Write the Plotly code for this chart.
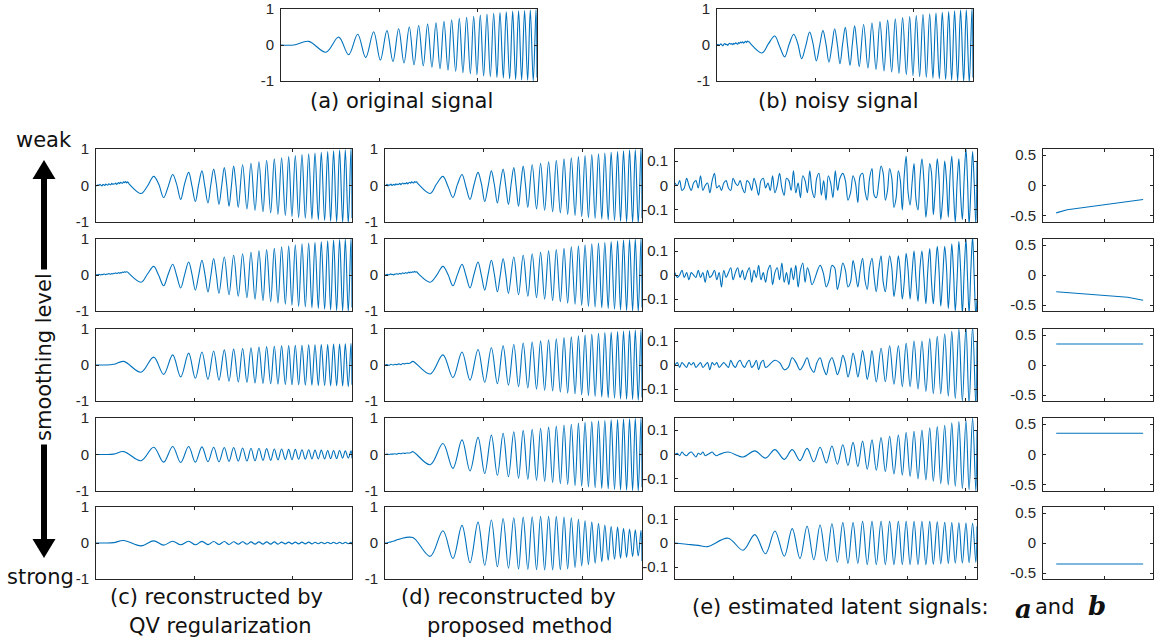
import plotly.graph_objects as go

W, H = 1154, 641
BLUE = "#0072BD"
AX = "#262626"

# ---------------- data ----------------
# sample positions of the extrema of the chirp (alternating peak / trough)
ext_t = [281, 457, 586, 687, 779, 860, 941, 1009, 1076, 1137,
         1195, 1249, 1303, 1351, 1398, 1445, 1489, 1533, 1574, 1615,
         1655, 1696, 1733, 1774, 1811, 1848, 1885, 1923, 1957, 1990,
         2024, 2058, 2092, 2126, 2160, 2193, 2224, 2258, 2288, 2322,
         2353, 2383, 2413, 2444, 2474, 2505, 2532, 2562, 2590]
N_SAMPLES = 2600

# (a) original signal
a_head = [0.0, 0.0]
a_amp = [0.10, 0.20, 0.22, 0.27, 0.30, 0.35, 0.37, 0.42, 0.40, 0.46,
         0.45, 0.50, 0.50, 0.55, 0.54, 0.58, 0.58, 0.62, 0.62, 0.66,
         0.66, 0.70, 0.70, 0.73, 0.74, 0.77, 0.77, 0.80, 0.80, 0.83,
         0.83, 0.86, 0.86, 0.88, 0.88, 0.90, 0.90, 0.92, 0.92, 0.94,
         0.94, 0.96, 0.95, 0.97, 0.96, 0.98, 0.97, 1.00, 0.99]

# (b) noisy signal (also weak-smoothing reconstructions)
b_head = [0.00, 0.02, -0.01, 0.01, 0.03, 0.00, -0.02, 0.02, 0.04, 0.01,
          0.02, -0.01, 0.03, 0.05, 0.02, 0.04, 0.01, 0.05, 0.03, 0.06,
          0.04, 0.02, 0.07, 0.05, 0.08, 0.06, 0.09, 0.05, 0.08, 0.10,
          0.07, 0.11, 0.09, 0.08, 0.04]
b_amp = [0.22, 0.25, 0.33, 0.30, 0.38, 0.36, 0.44, 0.40, 0.48, 0.45,
         0.52, 0.49, 0.57, 0.53, 0.60, 0.57, 0.64, 0.61, 0.68, 0.65,
         0.72, 0.69, 0.75, 0.73, 0.79, 0.76, 0.82, 0.79, 0.85, 0.82,
         0.88, 0.85, 0.90, 0.87, 0.92, 0.89, 0.94, 0.91, 0.96, 0.93,
         0.98, 0.95, 1.00, 0.97, 1.02, 0.98, 1.04, 1.02]
b_mid = [0.03, -0.04, 0.02, 0.05, -0.03, 0.04, -0.02, 0.03, -0.04, 0.02,
         0.03, -0.03, 0.02, -0.02]

c1_head = [0.01, -0.01, 0.02, 0.00, 0.03, 0.01, -0.01, 0.03, 0.02, 0.00,
           0.04, 0.02, 0.01, 0.05, 0.03, 0.02, 0.06, 0.03, 0.05, 0.04,
           0.07, 0.03, 0.06, 0.08, 0.05, 0.09, 0.07, 0.06, 0.10, 0.08,
           0.11, 0.07, 0.10, 0.07, 0.03]
c1_mid = [-0.02, 0.04, -0.03, 0.03, 0.05, -0.02, 0.03, -0.04, 0.02, 0.04,
          -0.02, 0.03, -0.03, 0.02]
d1_head = [0.00, 0.01, 0.03, -0.01, 0.02, 0.01, 0.04, 0.00, 0.02, 0.03,
           0.01, 0.05, 0.02, 0.04, 0.03, 0.06, 0.02, 0.05, 0.07, 0.04,
           0.06, 0.05, 0.08, 0.04, 0.07, 0.09, 0.06, 0.10, 0.08, 0.07,
           0.11, 0.09, 0.10, 0.06, 0.03]
d1_mid = [0.04, -0.02, 0.03, -0.04, 0.02, 0.05, -0.03, 0.02, 0.03, -0.02,
          0.04, -0.03, 0.02, 0.01]

c2_head = [0.00, 0.01, 0.00, 0.02, 0.01, 0.00, 0.02, 0.01, 0.03, 0.02,
           0.01, 0.03, 0.02, 0.04, 0.03, 0.02, 0.04, 0.03, 0.05, 0.04,
           0.06, 0.04, 0.05, 0.07, 0.05, 0.07, 0.06, 0.08, 0.07, 0.09,
           0.08, 0.09, 0.08, 0.06, 0.03]
c2_amp = [0.20, 0.24, 0.30, 0.30, 0.36, 0.36, 0.42, 0.41, 0.47, 0.46,
          0.51, 0.50, 0.55, 0.55, 0.59, 0.59, 0.63, 0.63, 0.67, 0.67,
          0.71, 0.71, 0.74, 0.74, 0.78, 0.78, 0.81, 0.81, 0.84, 0.84,
          0.87, 0.87, 0.89, 0.89, 0.91, 0.91, 0.93, 0.93, 0.95, 0.95,
          0.97, 0.97, 0.99, 0.99, 1.00, 1.00, 1.02, 1.02]
c2_mid = [0.02, -0.01, 0.02, -0.02, 0.01, 0.02, -0.01, 0.02, -0.02, 0.01]
d2_head = [0.01, 0.00, 0.02, 0.01, 0.00, 0.02, 0.03, 0.01, 0.02, 0.00,
           0.03, 0.02, 0.04, 0.02, 0.03, 0.05, 0.03, 0.04, 0.06, 0.04,
           0.05, 0.07, 0.05, 0.06, 0.08, 0.06, 0.08, 0.07, 0.09, 0.08,
           0.10, 0.08, 0.09, 0.06, 0.03]
d2_mid = [-0.01, 0.02, 0.01, -0.02, 0.02, -0.01, 0.01, 0.02, -0.01, 0.01]

c3_head = [0.0, 0.0, 0.02]
c3_amp = [0.10, 0.20, 0.22, 0.26, 0.28, 0.33, 0.33, 0.37, 0.36, 0.40,
          0.39, 0.42, 0.42, 0.45, 0.44, 0.47, 0.46, 0.48, 0.48, 0.50,
          0.50, 0.51, 0.51, 0.52, 0.52, 0.53, 0.53, 0.54, 0.54, 0.55,
          0.55, 0.55, 0.55, 0.56, 0.56, 0.56, 0.56, 0.57, 0.57, 0.57,
          0.57, 0.58, 0.58, 0.58, 0.58, 0.59, 0.59, 0.60, 0.60]
c4_amp = [0.08, 0.17, 0.20, 0.21, 0.22, 0.22, 0.22, 0.21, 0.21, 0.20,
          0.20, 0.20, 0.19, 0.19, 0.19, 0.18, 0.18, 0.18, 0.17, 0.17,
          0.17, 0.16, 0.16, 0.16, 0.15, 0.15, 0.15, 0.14, 0.14, 0.14,
          0.14, 0.13, 0.13, 0.13, 0.13, 0.12, 0.12, 0.12, 0.12, 0.12,
          0.11, 0.11, 0.11, 0.11, 0.11, 0.10, 0.10, 0.10, 0.10]
c5_amp = [0.07, 0.08, 0.06, 0.06, 0.05, 0.05, 0.05, 0.05, 0.045, 0.045,
          0.04, 0.04, 0.04, 0.04, 0.035, 0.035, 0.035, 0.035, 0.03, 0.03,
          0.03, 0.03, 0.03, 0.03, 0.03, 0.03, 0.025, 0.025, 0.025, 0.025,
          0.025, 0.025, 0.025, 0.025, 0.025, 0.025, 0.02, 0.02, 0.02, 0.02,
          0.02, 0.02, 0.02, 0.02, 0.02, 0.02, 0.02, 0.02, 0.02]
smooth_head = [0.0, 0.0, 0.01]

d3_head = [0.00, 0.01, -0.01, 0.02, 0.00, 0.02, 0.01, 0.03, 0.01, 0.04,
           0.03, 0.05, 0.04, 0.06]
d3_amp = [0.10, 0.25, 0.28, 0.35, 0.36, 0.42, 0.43, 0.48, 0.48, 0.52,
          0.53, 0.56, 0.57, 0.60, 0.61, 0.64, 0.64, 0.67, 0.67, 0.70,
          0.70, 0.72, 0.73, 0.75, 0.76, 0.78, 0.78, 0.80, 0.81, 0.83,
          0.83, 0.85, 0.86, 0.87, 0.88, 0.89, 0.90, 0.91, 0.91, 0.92,
          0.93, 0.94, 0.94, 0.95, 0.96, 0.96, 0.97, 0.98, 0.98]
d4_head = [0.00, 0.01, 0.00, 0.01, 0.01, 0.02, 0.01, 0.03, 0.02, 0.04,
           0.03, 0.04, 0.04, 0.05]
d4_amp = [0.08, 0.28, 0.30, 0.38, 0.40, 0.45, 0.47, 0.52, 0.53, 0.57,
          0.58, 0.61, 0.62, 0.65, 0.66, 0.68, 0.69, 0.71, 0.72, 0.74,
          0.75, 0.77, 0.78, 0.80, 0.81, 0.82, 0.83, 0.85, 0.86, 0.87,
          0.88, 0.89, 0.90, 0.91, 0.92, 0.93, 0.93, 0.94, 0.95, 0.96,
          0.96, 0.97, 0.97, 0.98, 0.98, 0.99, 0.99, 1.00, 1.00]
d5_head = [0.0, 0.0, 0.02, 0.03, 0.05, 0.06, 0.09, 0.10, 0.12]
d5_amp = [0.15, 0.37, 0.34, 0.43, 0.49, 0.55, 0.58, 0.62, 0.64, 0.66,
          0.68, 0.70, 0.70, 0.72, 0.72, 0.73, 0.73, 0.74, 0.74, 0.75,
          0.74, 0.75, 0.74, 0.74, 0.72, 0.72, 0.70, 0.68, 0.66, 0.64,
          0.62, 0.60, 0.58, 0.56, 0.54, 0.52, 0.50, 0.48, 0.46, 0.45,
          0.44, 0.42, 0.41, 0.40, 0.39, 0.38, 0.37, 0.36, 0.35]

# (e) estimated latent signal a
e1_head = [0.01, 0.00, 0.02, -0.02, -0.01, 0.03, 0.00, -0.02, 0.01, 0.02,
           -0.01, 0.04, -0.02, 0.00, 0.01, -0.03, 0.02, 0.05, -0.01, 0.00,
           -0.02, 0.01, 0.02, -0.01, -0.02, 0.03, 0.01, 0.00, 0.02, -0.01,
           -0.03, 0.02, 0.01, -0.02, 0.03, 0.00, -0.04, 0.02, 0.03, -0.01,
           0.01, -0.02, 0.04, -0.03, 0.00, 0.05, -0.01, -0.04, 0.03, 0.02,
           -0.02, 0.06, -0.03, 0.01, -0.05, 0.04, 0.02, -0.03, 0.06, -0.02,
           -0.05, 0.03, 0.05, -0.04, 0.02, -0.06, 0.04, 0.01, -0.05, 0.06,
           -0.02, 0.03]
e1_amp = [0.05, 0.06, 0.04, 0.07, 0.05, 0.06, 0.07, 0.05, 0.08, 0.06,
          0.07, 0.09, 0.06, 0.10, 0.12, 0.08, 0.09, 0.10, 0.11, 0.13,
          0.09, 0.12, 0.11, 0.14, 0.10, 0.13, 0.12, 0.15, 0.11, 0.14,
          0.15, 0.16, 0.14, 0.16]
e1_mid = [0.02, -0.03, 0.01, 0.04, -0.02, 0.03, -0.04, 0.01, 0.05, -0.02,
          0.03, -0.05, 0.02, 0.04, -0.03, 0.01, -0.06, 0.03, 0.02, -0.04,
          0.05, -0.01, 0.03, -0.05, 0.02, 0.04, -0.03, 0.01, -0.04, 0.03,
          0.02, -0.02, 0.01]
e2_head = [0.01, -0.01, 0.00, 0.02, -0.01, 0.01, -0.02, 0.01, 0.00, -0.01,
           0.02, -0.01, 0.01, -0.03, 0.02, -0.01, 0.00, 0.02, -0.02, 0.01,
           -0.05, 0.02, -0.01, 0.01, 0.03, -0.02, 0.01, 0.03, -0.01, 0.02,
           -0.02, 0.01, 0.03, -0.03, 0.02, -0.01, 0.04, -0.02, 0.01, -0.03,
           0.02, 0.04, -0.04, 0.01, 0.03, -0.02, 0.05, -0.03, 0.01, -0.04,
           0.03, -0.02, 0.04, -0.05, 0.02, 0.05, -0.03, 0.03, 0.00, -0.04]
e2_amp = [0.04, 0.05, 0.04, 0.06, 0.05, 0.05, 0.06, 0.05, 0.07, 0.06,
          0.07, 0.07, 0.08, 0.07, 0.08, 0.09, 0.08, 0.10, 0.09, 0.10,
          0.10, 0.11, 0.10, 0.12, 0.11, 0.12, 0.12, 0.13, 0.12, 0.14,
          0.13, 0.15, 0.14, 0.16, 0.15, 0.16, 0.16, 0.17]
e2_mid = [0.01, -0.02, 0.03, -0.01, 0.02, -0.03, 0.01, 0.02, -0.02, 0.03,
          -0.01, 0.02, -0.03, 0.01, 0.03, -0.02, 0.01, -0.03, 0.02, 0.01,
          -0.02, 0.03, -0.01, 0.02, -0.03, 0.01, 0.02, -0.01, 0.03, -0.02,
          0.01, -0.02, 0.02, 0.01, -0.01, 0.02, -0.01]
e3_head = [0.00, 0.01, -0.01, 0.01, 0.00, -0.01, 0.01, 0.00, 0.01, -0.01,
           0.00, 0.01, -0.01, 0.00, 0.01, -0.02, 0.01, 0.00, 0.01, -0.01,
           0.00, 0.01, 0.00, -0.01, 0.02, 0.00, -0.01, 0.01, 0.02, 0.00,
           -0.01, 0.01, 0.02, -0.01, 0.00, 0.02, -0.02, 0.01, 0.02, -0.01]
e3_amp = [0.02, 0.02, 0.03, 0.02, 0.03, 0.03, 0.03, 0.04, 0.03, 0.04,
          0.04, 0.05, 0.05, 0.05, 0.06, 0.06, 0.06, 0.07, 0.07, 0.07,
          0.08, 0.08, 0.08, 0.09, 0.09, 0.09, 0.10, 0.10, 0.10, 0.11,
          0.11, 0.12, 0.12, 0.12, 0.13, 0.13, 0.14, 0.14, 0.15, 0.15,
          0.16, 0.16, 0.16, 0.17]
e3_mid = [0.01, -0.01, 0.01, 0.00, -0.01, 0.01, -0.01, 0.01, 0.00, -0.01,
          0.01, -0.01, 0.01, 0.00, 0.01, -0.01]
e4_head = [0.00, 0.005, -0.005, 0.01, 0.00, -0.005, 0.005, 0.01, 0.00, -0.01,
           0.005, 0.00, 0.01, -0.005, 0.00, 0.005, 0.01, 0.00, -0.005, 0.00]
e4_amp = [0.01, 0.01, 0.015, 0.015, 0.02, 0.02, 0.02, 0.025, 0.025, 0.03,
          0.03, 0.035, 0.035, 0.04, 0.04, 0.045, 0.05, 0.05, 0.055, 0.06,
          0.06, 0.065, 0.07, 0.07, 0.075, 0.08, 0.08, 0.085, 0.09, 0.09,
          0.095, 0.10, 0.10, 0.105, 0.11, 0.11, 0.115, 0.12, 0.12, 0.125,
          0.13, 0.13, 0.135, 0.14, 0.14, 0.145, 0.15, 0.15]
e5_head = [0.0, -0.005, -0.01]
e5_amp = [0.015, 0.02, 0.03, 0.035, 0.045, 0.05, 0.055, 0.06, 0.065, 0.07,
          0.07, 0.075, 0.075, 0.08, 0.08, 0.085, 0.085, 0.085, 0.085, 0.09,
          0.09, 0.09, 0.09, 0.09, 0.09, 0.09, 0.09, 0.09, 0.09, 0.09,
          0.09, 0.09, 0.09, 0.09, 0.09, 0.09, 0.088, 0.088, 0.086, 0.086,
          0.085, 0.085, 0.084, 0.084, 0.083, 0.083, 0.082, 0.082, 0.08]

# latent signal b (right column)
ab_x = [[0.12, 0.22, 0.91], [0.12, 0.50, 0.77, 0.91], [0.12, 0.91],
        [0.12, 0.91], [0.12, 0.91]]
ab_y = [[-0.45, -0.40, -0.23], [-0.28, -0.33, -0.37, -0.42], [0.35, 0.35],
        [0.35, 0.35], [-0.35, -0.35]]


def series(head, step, amps, start, sign, end_v, mid=()):
    xs = [k * step for k in range(len(head))]
    ys = list(head)
    for k, m in enumerate(amps):
        i = start + k
        xs.append(ext_t[i])
        ys.append(sign * (1 if i % 2 == 0 else -1) * m)
        if k < len(mid) and i + 1 < len(ext_t):
            xs.append((ext_t[i] + ext_t[i + 1]) / 2)
            ys.append(mid[k])
    xs.append(N_SAMPLES)
    ys.append(end_v)
    return xs, ys


# ---------------- layout ----------------
fig = go.Figure()
layout = {}
n_ax = [0]


def panel(px, py, xr, yr, xt, yt, ytext, traces):
    n_ax[0] += 1
    n = n_ax[0]
    sx = "" if n == 1 else str(n)
    common = dict(showline=True, linecolor=AX, linewidth=1, mirror="ticks",
                  ticks="inside", ticklen=3, tickwidth=1, tickcolor=AX,
                  showgrid=False, zeroline=False, fixedrange=True, automargin=False)
    layout["xaxis" + sx] = dict(domain=[px[0] / W, px[1] / W], range=xr,
                               tickvals=xt, showticklabels=False,
                               anchor="y" + sx, **common)
    layout["yaxis" + sx] = dict(domain=[1 - py[1] / H, 1 - py[0] / H], range=yr,
                               tickvals=yt, ticktext=ytext, anchor="x" + sx,
                               tickfont=dict(family="Liberation Sans", size=15, color=AX),
                               ticklabelstandoff=3, **common)
    for xs, ys, shape in traces:
        fig.add_trace(go.Scatter(x=xs, y=ys, mode="lines", xaxis="x" + sx, yaxis="y" + sx,
                                 line=dict(color=BLUE, width=1.1, shape=shape),
                                 showlegend=False, hoverinfo="skip"))


SIG_X = [0, N_SAMPLES]
T1 = [1000, 2000]
T2 = [500, 1000, 1500, 2000, 2500]
Y1 = ([-1, 1], [-1, 0, 1], ["-1", "0", "1"])
YE = ([-0.15, 0.15], [-0.1, 0, 0.1], ["-0.1", "0", "0.1"])
YB = ([-0.6, 0.6], [-0.5, 0, 0.5], ["-0.5", "0", "0.5"])

# top panels
panel((281, 537), (9, 81), SIG_X, Y1[0], T1, Y1[1], Y1[2],
      [(*series(a_head, 130, a_amp, 0, 1, -0.9), "spline")])
panel((717, 973), (9, 81), SIG_X, Y1[0], T1, Y1[1], Y1[2],
      [(*series(b_head, 10, b_amp, 1, 1, -0.9, b_mid), "spline")])

rows = [(149, 222), (239, 311), (329, 401), (418, 491), (507, 579)]
c_series = [series(c1_head, 10, b_amp, 1, 1, -0.9, c1_mid),
            series(c2_head, 10, c2_amp, 1, 1, -0.9, c2_mid),
            series(c3_head, 90, c3_amp, 0, 1, -0.55),
            series(smooth_head, 90, c4_amp, 0, 1, -0.1),
            series(smooth_head, 90, c5_amp, 0, 1, -0.04)]
d_series = [series(d1_head, 10, b_amp, 1, 1, -0.9, d1_mid),
            series(d2_head, 10, c2_amp, 1, 1, -0.9, d2_mid),
            series(d3_head, 20, d3_amp, 0, 1, -0.9),
            series(d4_head, 20, d4_amp, 0, 1, -0.9),
            series(d5_head, 20, d5_amp, 0, 1, -0.5)]
e_series = [series(e1_head, 20, e1_amp, 15, -1, 0.1, e1_mid),
            series(e2_head, 20, e2_amp, 11, -1, -0.1, e2_mid),
            series(e3_head, 20, e3_amp, 5, -1, 0.1, e3_mid),
            series(e4_head, 20, e4_amp, 1, -1, 0.1),
            series(e5_head, 100, e5_amp, 0, -1, 0.07)]

for r, py in enumerate(rows):
    panel((96, 352), py, SIG_X, Y1[0], T1, Y1[1], Y1[2], [(*c_series[r], "spline")])
    panel((385, 642), py, SIG_X, Y1[0], T1, Y1[1], Y1[2], [(*d_series[r], "spline")])
    panel((675, 977), py, SIG_X, YE[0], T2, YE[1], YE[2], [(*e_series[r], "spline")])
    panel((1043, 1153), py, [0, 1], YB[0], [0.56], YB[1], YB[2],
          [(ab_x[r], ab_y[r], "linear")])

# ---------------- annotations ----------------
TXT = dict(family="DejaVu Sans", size=21, color="#111111")


def ann(text, x, y, xanchor="center", **kw):
    return dict(text=text, x=x / W, y=1 - y / H, xref="paper", yref="paper",
                xanchor=xanchor, yanchor="middle", showarrow=False,
                font=kw.pop("font", TXT), **kw)


annotations = [
    ann("(a) original signal", 401, 101),
    ann("(b) noisy signal", 838, 101),
    ann("weak", 44, 140),
    ann("strong", 40, 577),
    ann("smoothing level", 44, 357, textangle=-90, bgcolor="white", borderpad=3),
    ann("(c) reconstructed by", 216, 597),
    ann("QV regularization", 220, 626),
    ann("(d) reconstructed by", 508, 597),
    ann("proposed method", 520, 626),
    ann("(e) estimated latent signals:", 690, 607, xanchor="left"),
    ann("<b><i>a</i></b>", 1013, 609, xanchor="left",
        font=dict(family="DejaVu Serif", size=26, color="#111111")),
    ann("and", 1033, 607, xanchor="left"),
    ann("<b><i>b</i></b>", 1086, 606, xanchor="left",
        font=dict(family="DejaVu Serif", size=26, color="#111111")),
]


def pp(x, y):
    return f"{x / W:.5f},{1 - y / H:.5f}"


shapes = [
    dict(type="line", xref="paper", yref="paper", x0=44 / W, x1=44 / W,
         y0=1 - 176 / H, y1=1 - 542 / H, line=dict(color="black", width=6), layer="below"),
    dict(type="path", xref="paper", yref="paper",
         path=f"M{pp(32.5, 179)} L{pp(55.5, 179)} L{pp(44, 160)} Z",
         fillcolor="black", line=dict(color="black", width=0)),
    dict(type="path", xref="paper", yref="paper",
         path=f"M{pp(32.5, 539)} L{pp(55.5, 539)} L{pp(44, 558)} Z",
         fillcolor="black", line=dict(color="black", width=0)),
]

fig.update_layout(width=W, height=H,
                  margin=dict(l=0, r=0, t=0, b=0, pad=0, autoexpand=False),
                  paper_bgcolor="white", plot_bgcolor="white",
                  annotations=annotations, shapes=shapes, **layout)
fig.write_html("out.html")
